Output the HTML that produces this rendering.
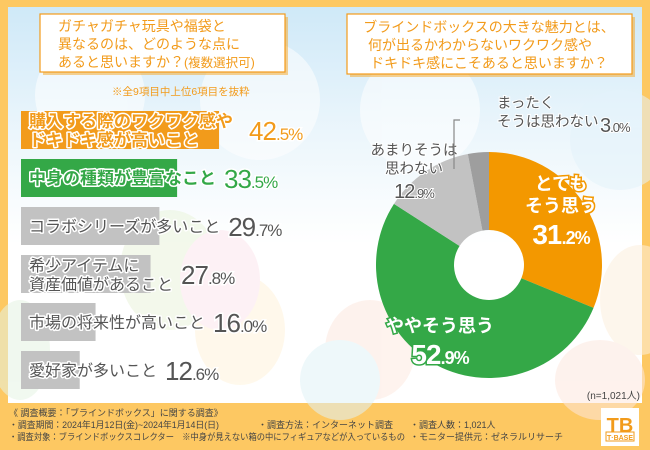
<!DOCTYPE html>
<html><head><meta charset="utf-8"><style>
html,body{margin:0;padding:0;width:650px;height:450px;overflow:hidden;background:#FDC862}
svg{display:block}
text{font-family:"Liberation Sans","Noto Sans CJK JP",sans-serif}
</style></head><body>
<svg id="chart" width="650" height="450" viewBox="0 0 650 450">
<defs>
<linearGradient id="sky" x1="0" y1="0" x2="0" y2="1">
<stop offset="0" stop-color="#cfe9f8"/><stop offset="0.35" stop-color="#eef7fc"/><stop offset="0.6" stop-color="#ffffff"/>
</linearGradient>
</defs>
<rect x="0" y="0" width="650" height="450" fill="#FDC862"/>
<rect x="8" y="7" width="634" height="396" fill="url(#sky)"/>
<g opacity="0.55">
<circle cx="90" cy="95" r="55" fill="#fff"/><circle cx="260" cy="100" r="60" fill="#fff"/>
<circle cx="420" cy="110" r="60" fill="#fff"/><circle cx="620" cy="140" r="50" fill="#e4f3fb"/>
<ellipse cx="170" cy="270" rx="50" ry="60" fill="#eaf4dc"/><ellipse cx="240" cy="330" rx="45" ry="55" fill="#fff4dc"/>
<ellipse cx="220" cy="280" rx="40" ry="50" fill="#fde6ee"/><ellipse cx="640" cy="300" rx="40" ry="55" fill="#fdf0de"/>
<ellipse cx="600" cy="380" rx="45" ry="40" fill="#fde8df"/><ellipse cx="370" cy="350" rx="45" ry="50" fill="#fde9e0"/>
<ellipse cx="20" cy="350" rx="30" ry="50" fill="#e5f4e3"/><ellipse cx="340" cy="380" rx="40" ry="40" fill="#e1f3f7"/>
</g>

<g>
<rect x="43" y="17" width="245" height="58" fill="#f5a623" opacity="0.5"/>
<rect x="40" y="14" width="245" height="58" fill="#fff" stroke="#F29B1B" stroke-width="1.2"/>
<text x="58" y="31" font-size="14" fill="#F29B1B">ガチャガチャ玩具や福袋と</text>
<text x="58" y="49" font-size="14" fill="#F29B1B">異なるのは、どのような点に</text>
<text x="58" y="67" font-size="14" fill="#F29B1B">あると思いますか？<tspan font-size="12.5">(複数選択可)</tspan></text>
</g>
<text x="112" y="95" font-size="10.5" fill="#F29B1B">※全9項目中上位6項目を抜粋</text>

<g id="bars"></g>

<g>
<rect x="350" y="17" width="285" height="60" fill="#f5a623" opacity="0.5"/>
<rect x="347" y="14" width="285" height="60" fill="#fff" stroke="#F29B1B" stroke-width="1.2"/>
<text x="489" y="32" font-size="14" fill="#F29B1B" text-anchor="middle">ブラインドボックスの大きな魅力とは、</text>
<text x="480" y="50" font-size="14" fill="#F29B1B" text-anchor="middle">何が出るかわからないワクワク感や</text>
<text x="489" y="68" font-size="14" fill="#F29B1B" text-anchor="middle">ドキドキ感にこそあると思いますか？</text>
</g>

<g id="pie"></g>

<text x="640" y="399" font-size="10" fill="#444" text-anchor="end">(n=1,021人)</text>

<g font-size="9" fill="#444">
<text x="9" y="416">《 調査概要：「ブラインドボックス」に関する調査》</text>
<text x="9" y="428" textLength="210" lengthAdjust="spacingAndGlyphs">・調査期間：2024年1月12日(金)~2024年1月14日(日)</text>
<text x="258" y="428">・調査方法：インターネット調査</text>
<text x="410" y="428">・調査人数：1,021人</text>
<text x="9" y="440" textLength="396" lengthAdjust="spacingAndGlyphs">・調査対象：ブラインドボックスコレクター　※中身が見えない箱の中にフィギュアなどが入っているもの</text>
<text x="410" y="440">・モニター提供元：ゼネラルリサーチ</text>
</g>
<g>
<rect x="601" y="408" width="38" height="38" fill="#fff"/>
<text x="620" y="432" font-size="20" font-weight="bold" fill="#F29B1B" text-anchor="middle">TB</text>
<rect x="606" y="432" width="28" height="9" fill="none" stroke="#F29B1B" stroke-width="1"/>
<text x="620" y="440" font-size="7" font-weight="bold" fill="#F29B1B" text-anchor="middle">T·BASE</text>
</g>
</svg>
<script>
const barLabels = [["購入する際のワクワク感や","ドキドキ感が高いこと"],["中身の種類が豊富なこと"],["コラボシリーズが多いこと"],["希少アイテムに","資産価値があること"],["市場の将来性が高いこと"],["愛好家が多いこと"]];
const barValues = [42.5, 33.5, 29.7, 27.8, 16.0, 12.6];
const barColors = ["#F29B1B","#34A847","#C2C2C2","#C2C2C2","#C2C2C2","#C2C2C2"];
const barTextColors = ["#F29B1B","#34A847","#555555","#555555","#555555","#555555"];

const pieLabels = [["とても","そう思う"],["ややそう思う"],["あまりそうは","思わない"],["まったく","そうは思わない"]];
const pieValues = [31.2, 52.9, 12.9, 3.0];
const pieColors = ["#F39800","#34A847","#C2C2C2","#9E9E9E"];

const NS = "http://www.w3.org/2000/svg";
function mk(tag, attrs, parent){const e=document.createElementNS(NS,tag);for(const k in attrs)e.setAttribute(k,attrs[k]);parent.appendChild(e);return e;}

const bx0 = 21, pxPerPct = 4.66;
const xScale = v => v * pxPerPct;
const rowY = i => 111 + i * 48;
const barH = 38;
const bars = document.getElementById('bars');
barValues.forEach((v,i)=>{
  const g = mk('g',{},bars);
  
  
  const r = mk('rect',{x:bx0,y:rowY(i),width:xScale(v),height:barH,fill:barColors[i]},g);
  
  
  const lines = barLabels[i];
  const fs = i<2 ? 17 : 16;
  let lastW = 0;
  lines.forEach((ln,j)=>{
    const y = lines.length===1 ? rowY(i)+barH/2+6 : rowY(i)+16+j*19;
    const t = mk('text',{x:bx0+8,y:y,'font-size':fs,'font-weight':i<2?'bold':'normal',fill:barTextColors[i],stroke:'#fff','stroke-width':3,'paint-order':'stroke','stroke-linejoin':'round'},g);
    t.textContent = ln;
    
    
    lastW = Math.max(lastW, t.getComputedTextLength());
  });
  const ix = Math.floor(v), dec = (v.toFixed(1)).split('.')[1];
  const px = i===0 ? bx0+xScale(v)+30 : bx0+8+lastW+8;
  const pv = mk('text',{x:px,y:rowY(i)+barH/2+10,fill:barTextColors[i],stroke:'#fff','stroke-width':3,'paint-order':'stroke','letter-spacing':'-1'},g);
  
  
  const a = mk('tspan',{'font-size':26},pv); a.textContent = ix;
  const b = mk('tspan',{'font-size':17},pv); b.textContent = '.'+dec+'%';
});

const cx=489, cy=265, R=113, r0=35;
const total = pieValues.reduce((a,b)=>a+b,0);
const ang = v => v/total*Math.PI*2;
const pie = document.getElementById('pie');
let a0 = -Math.PI/2;
const pt=(rad,a)=>[cx+rad*Math.cos(a), cy+rad*Math.sin(a)];
pieValues.forEach((v,i)=>{
  const a1 = a0 + ang(v);
  const [x1,y1]=pt(R,a0),[x2,y2]=pt(R,a1),[x3,y3]=pt(r0,a1),[x4,y4]=pt(r0,a0);
  const lg = (a1-a0)>Math.PI?1:0;
  const p = mk('path',{d:`M${x1},${y1} A${R},${R} 0 ${lg} 1 ${x2},${y2} L${x3},${y3} A${r0},${r0} 0 ${lg} 0 ${x4},${y4} Z`,fill:pieColors[i]},pie);
  
  
  a0 = a1;
});
const labelPos = [[561,190,true],[440,332,true],[414,155,false],[497,108,false]];
pieValues.forEach((v,i)=>{
  const [lx,ly,inside]=labelPos[i];
  const g = mk('g',{},pie);
  
  
  const fill = inside ? '#fff' : '#555';
  const strokeC = inside ? pieColors[i] : '#fff';
  const fs = inside ? 18 : 14.5;
  const anchor = i===3 ? 'start' : 'middle';
  const lines = pieLabels[i];
  lines.forEach((ln,j)=>{
    const t = mk('text',{x:lx,y:ly+j*(fs+4),'font-size':fs,'font-weight':inside?'bold':'normal',fill:fill,stroke:strokeC,'stroke-width':inside?3:2,'paint-order':'stroke','text-anchor':anchor},g);
    t.textContent = ln;
  });
  const ix=Math.floor(v), dec=v.toFixed(1).split('.')[1];
  let vx=lx, vy=ly+lines.length*(fs+4)+(inside?10:6), va='middle';
  if(i===3){vx=600; vy=ly+24; va='start';}
  const pv = mk('text',{x:vx,y:vy,fill:fill,stroke:strokeC,'stroke-width':inside?3:2,'paint-order':'stroke','text-anchor':va,'letter-spacing':'-1','font-weight':inside?'bold':'normal'},g);
  const s1 = mk('tspan',{'font-size':inside?28:20},pv); s1.textContent=ix;
  const s2 = mk('tspan',{'font-size':inside?18:13},pv); s2.textContent='.'+dec+'%';
});
mk('path',{d:'M454,169 L454,120 L460,120',fill:'none',stroke:'#888','stroke-width':1.2},pie);
</script>
</body></html>
